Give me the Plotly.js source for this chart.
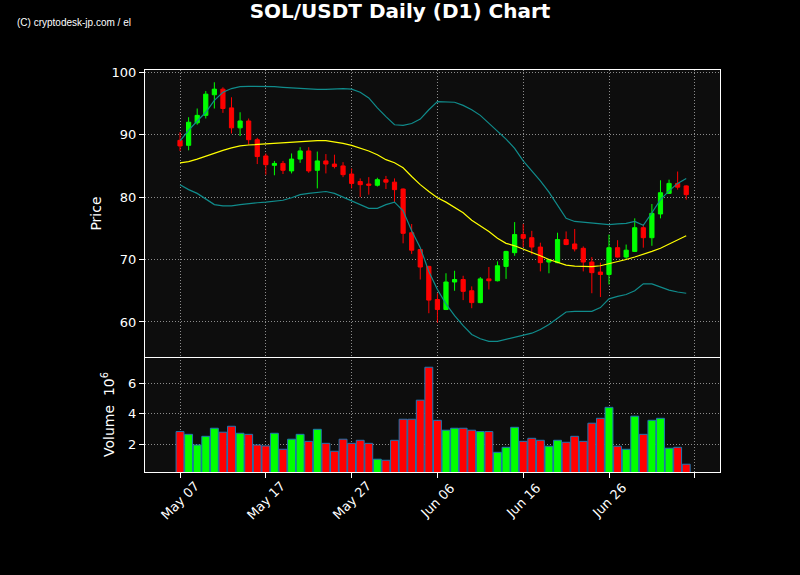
<!DOCTYPE html>
<html>
<head>
<meta charset="utf-8">
<script src="https://cdn.plot.ly/plotly-3.0.1.min.js"></script>
<style>html,body{margin:0;padding:0;background:#000;}#chart{width:800px;height:575px;}</style>
</head>
<body>
<div id="chart"></div>
<script>
// ---- data ----
const startDate = '2024-05-07';
const nDays = 60;
const openP  = [89.1, 88.3, 91.9, 93.1, 96.4, 97.3, 94.3, 91.1, 92.2, 89.2,
                86.6, 85.1, 85.4, 84.2, 86.1, 87.4, 84.3, 85.8, 85.3, 85.0,
                83.7, 82.5, 82.1, 81.9, 82.8, 82.4, 81.3, 74.3, 71.6, 68.9,
                63.6, 62.0, 66.4, 66.8, 65.0, 63.1, 66.9, 66.6, 68.9, 71.1,
                74.0, 73.5, 72.0, 69.6, 69.5, 73.2, 72.5, 71.8, 69.6, 68.0,
                67.6, 71.9, 70.4, 71.3, 75.1, 73.5, 77.3, 80.6, 82.2, 81.8];
const highP  = [90.4, 92.8, 94.2, 97.0, 98.4, 97.6, 96.0, 93.6, 92.6, 89.5,
                87.0, 85.8, 85.8, 87.0, 88.0, 88.0, 87.3, 86.9, 86.8, 85.6,
                84.6, 83.0, 83.2, 83.1, 83.4, 83.0, 81.4, 75.7, 71.7, 69.0,
                64.6, 67.8, 68.2, 67.4, 65.7, 67.2, 68.8, 69.7, 71.4, 76.0,
                75.7, 74.6, 72.7, 70.1, 74.3, 74.5, 74.9, 72.1, 70.4, 69.5,
                74.0, 73.1, 72.4, 76.6, 75.7, 78.9, 82.7, 82.8, 84.1, 81.9];
const lowP   = [87.4, 87.5, 91.6, 92.6, 94.2, 93.5, 90.2, 89.8, 88.4, 85.3,
                83.6, 83.5, 83.7, 83.8, 85.5, 83.9, 81.4, 83.8, 84.6, 83.2,
                81.4, 80.0, 80.4, 81.7, 81.3, 79.1, 72.6, 70.9, 66.8, 61.4,
                59.9, 61.9, 65.0, 63.5, 62.2, 63.0, 65.2, 66.5, 66.9, 70.6,
                72.0, 70.8, 68.1, 67.8, 69.4, 72.3, 71.3, 68.1, 64.6, 64.0,
                66.0, 70.3, 70.0, 71.2, 71.9, 72.2, 76.6, 80.5, 81.2, 79.6];
const closeP = [88.2, 92.0, 93.1, 96.5, 97.3, 94.2, 91.1, 92.2, 89.2, 86.5,
                85.2, 85.4, 84.3, 86.1, 87.4, 84.2, 85.8, 85.3, 84.9, 83.6,
                82.2, 82.0, 81.9, 82.8, 82.4, 81.2, 74.2, 71.5, 68.8, 63.5,
                62.0, 66.4, 66.8, 64.9, 63.1, 66.9, 66.6, 69.0, 71.3, 74.0,
                73.4, 72.0, 69.5, 70.0, 73.2, 72.4, 71.7, 69.6, 67.9, 67.6,
                71.9, 70.4, 71.5, 75.1, 73.5, 77.4, 80.7, 82.2, 81.6, 80.4];
// volume in units of 10^6
const volume = [2.83, 2.65, 1.95, 2.52, 3.05, 2.79, 3.18, 2.72, 2.65, 1.95,
                1.89, 2.72, 1.67, 2.33, 2.65, 2.19, 2.98, 2.06, 1.54, 2.33,
                2.06, 2.26, 2.06, 1.02, 0.95, 2.26, 3.64, 3.64, 4.89, 7.05,
                3.57, 2.92, 3.05, 3.05, 2.92, 2.83, 2.83, 1.47, 1.80, 3.11,
                2.19, 2.39, 2.26, 1.87, 2.26, 2.13, 2.52, 2.19, 3.38, 3.70,
                4.42, 1.87, 1.67, 3.84, 2.65, 3.57, 3.70, 1.74, 1.80, 0.69];
// moving average (yellow) and bands (teal)
const midBand = [85.5, 85.7, 86.1, 86.6, 87.1, 87.5, 87.9, 88.2, 88.35, 88.45,
                 88.5, 88.55, 88.7, 88.85, 88.95, 89.0, 89.05, 89.05, 88.85, 88.6,
                 88.3, 87.9, 87.4, 86.8, 86.0, 85.5, 84.7, 83.3, 82.0, 80.9,
                 79.9, 79.2, 78.4, 77.5, 76.3, 75.4, 74.5, 73.4, 72.6, 72.2,
                 71.7, 71.2, 70.6, 70.0, 69.5, 69.1, 68.95, 68.85, 68.85, 69.0,
                 69.3, 69.6, 70.0, 70.4, 70.8, 71.3, 71.8, 72.5, 73.2, 73.8];
const upperBand = [89.0, 90.7, 92.2, 93.6, 95.5, 96.8, 97.4, 97.7, 97.75, 97.75,
                   97.75, 97.7, 97.6, 97.5, 97.4, 97.3, 97.25, 97.25, 97.3, 97.4,
                   97.3, 96.8, 95.9, 94.3, 92.9, 91.6, 91.5, 91.8, 92.5, 94.0,
                   95.3, 95.3, 95.2, 94.7, 94.0, 93.1, 91.8, 90.5, 89.3, 87.8,
                   85.8, 84.2, 82.6, 80.8, 78.8, 76.6, 76.1, 76.0, 75.9, 75.8,
                   75.6, 75.7, 75.8, 76.1, 75.5, 77.5, 79.6, 81.0, 82.2, 83.0];
const lowerBand = [82.0, 81.2, 80.6, 79.7, 78.8, 78.6, 78.6, 78.8, 79.0, 79.1,
                   79.2, 79.3, 79.5, 79.9, 80.4, 80.6, 80.8, 80.9, 80.6, 80.0,
                   79.4, 78.7, 78.2, 78.2, 78.8, 79.2, 77.8, 74.6, 71.9, 68.1,
                   65.2, 62.9, 61.0, 59.4, 58.0, 57.3, 56.9, 56.9, 57.2, 57.5,
                   57.8, 58.2, 58.8, 59.6, 60.6, 61.6, 61.7, 61.7, 61.7, 62.3,
                   63.7, 64.1, 64.4, 65.0, 66.1, 66.1, 65.6, 65.1, 64.8, 64.6];
const tickDates  = ['2024-05-07', '2024-05-17', '2024-05-27', '2024-06-06', '2024-06-16', '2024-06-26', '2024-07-06'];
const tickLabels = ['May 07', 'May 17', 'May 27', 'Jun 06', 'Jun 16', 'Jun 26', ''];
const priceTicks = [60, 70, 80, 90, 100];
const volTicks = [2, 4, 6];

// ---- build ----
const dates = [];
(function(){
  const d0 = new Date(startDate + 'T00:00:00Z');
  for (let i = 0; i < nDays; i++) {
    const d = new Date(d0.getTime() + i * 86400000);
    dates.push(d.toISOString().slice(0, 10));
  }
})();
const UP = '#00ff00', DOWN = '#ff0000';
const volColors = closeP.map((c, i) => c >= openP[i] ? UP : DOWN);

const FONT = 'DejaVu Sans, sans-serif';
const traces = [
  {
    type: 'candlestick', x: dates, open: openP, high: highP, low: lowP, close: closeP,
    xaxis: 'x2', yaxis: 'y2',
    increasing: {line: {color: UP, width: 1}, fillcolor: UP},
    decreasing: {line: {color: DOWN, width: 1}, fillcolor: DOWN},
    whiskerwidth: 0, hoverinfo: 'skip', showlegend: false
  },
  {type: 'scatter', mode: 'lines', x: dates, y: upperBand, xaxis: 'x2', yaxis: 'y2',
   line: {color: '#108c8c', width: 1.2}, hoverinfo: 'skip', showlegend: false},
  {type: 'scatter', mode: 'lines', x: dates, y: lowerBand, xaxis: 'x2', yaxis: 'y2',
   line: {color: '#108c8c', width: 1.2}, hoverinfo: 'skip', showlegend: false},
  {type: 'scatter', mode: 'lines', x: dates, y: midBand, xaxis: 'x2', yaxis: 'y2',
   line: {color: '#ffff00', width: 1.2}, hoverinfo: 'skip', showlegend: false},
  {type: 'bar', x: dates, y: volume, xaxis: 'x', yaxis: 'y',
   width: 0.92 * 86400000,
   marker: {color: volColors, line: {color: '#1f77b4', width: 1}},
   hoverinfo: 'skip', showlegend: false}
];

const xRange = ['2024-05-02 22:00', '2024-07-08 22:30'];
const gridCommon = {gridcolor: '#8c8c8c', griddash: '1px,2px', gridwidth: 1};
const annotations = [];
tickDates.forEach((d, i) => {
  if (!tickLabels[i]) return;
  annotations.push({
    x: d, xref: 'x', y: -0.07, yref: 'paper', text: tickLabels[i], showarrow: false,
    textangle: -45, xanchor: 'center', yanchor: 'middle',
    font: {family: FONT, size: 13, color: '#ffffff'}
  });
});
annotations.push({
  x: -0.226, xref: 'paper', y: 1.118, yref: 'paper', text: '(C) cryptodesk-jp.com / el',
  showarrow: false, xanchor: 'left', yanchor: 'middle',
  font: {family: 'Liberation Sans, Arial, sans-serif', size: 10, color: '#ffffff'}
});

const layout = {
  width: 800, height: 575,
  paper_bgcolor: '#000000', plot_bgcolor: '#0d0d0d',
  margin: {l: 145, r: 80, t: 70, b: 103},
  showlegend: false,
  font: {family: FONT, color: '#ffffff', size: 13},
  title: {text: 'SOL/USDT Daily (D1) Chart', x: 0.5, xref: 'container', xanchor: 'center',
          y: 0.981, yref: 'container', yanchor: 'middle',
          font: {family: FONT, size: 20, color: '#ffffff', weight: 'bold'}},
  xaxis: Object.assign({
    type: 'date', range: xRange, domain: [0, 1], anchor: 'y',
    tickmode: 'array', tickvals: tickDates, ticktext: tickLabels, showticklabels: false,
    ticks: 'outside', ticklen: 5, tickcolor: '#ffffff',
    showgrid: true, showline: true, mirror: false, linecolor: '#ffffff', linewidth: 1,
    zeroline: false, rangeslider: {visible: false}, fixedrange: true
  }, gridCommon),
  xaxis2: Object.assign({
    type: 'date', range: xRange, domain: [0, 1], anchor: 'y2', matches: 'x',
    tickmode: 'array', tickvals: tickDates, showticklabels: false, ticks: '',
    showgrid: true, showline: true, mirror: true, linecolor: '#ffffff', linewidth: 1,
    zeroline: false, rangeslider: {visible: false}, fixedrange: true
  }, gridCommon),
  yaxis: Object.assign({
    domain: [0, 0.286], anchor: 'x', range: [0.18, 7.72],
    tickmode: 'array', tickvals: volTicks, ticks: 'outside', ticklen: 5, tickcolor: '#ffffff',
    tickfont: {family: FONT, size: 13, color: '#ffffff'},
    showline: true, mirror: true, linecolor: '#ffffff', linewidth: 1, zeroline: false,
    title: {text: 'Volume  10<sup>6</sup>', standoff: 10, font: {family: FONT, size: 14, color: '#ffffff'}}
  }, gridCommon),
  yaxis2: Object.assign({
    domain: [0.286, 1], anchor: 'x2', range: [54.38, 100.37],
    tickmode: 'array', tickvals: priceTicks, ticks: 'outside', ticklen: 5, tickcolor: '#ffffff',
    tickfont: {family: FONT, size: 13, color: '#ffffff'},
    showline: true, mirror: true, linecolor: '#ffffff', linewidth: 1, zeroline: false,
    title: {text: 'Price', standoff: 6, font: {family: FONT, size: 14, color: '#ffffff'}}
  }, gridCommon),
  annotations: annotations,
  bargap: 0
};

Plotly.newPlot('chart', traces, layout, {displayModeBar: false, staticPlot: true});
</script>
</body>
</html>
